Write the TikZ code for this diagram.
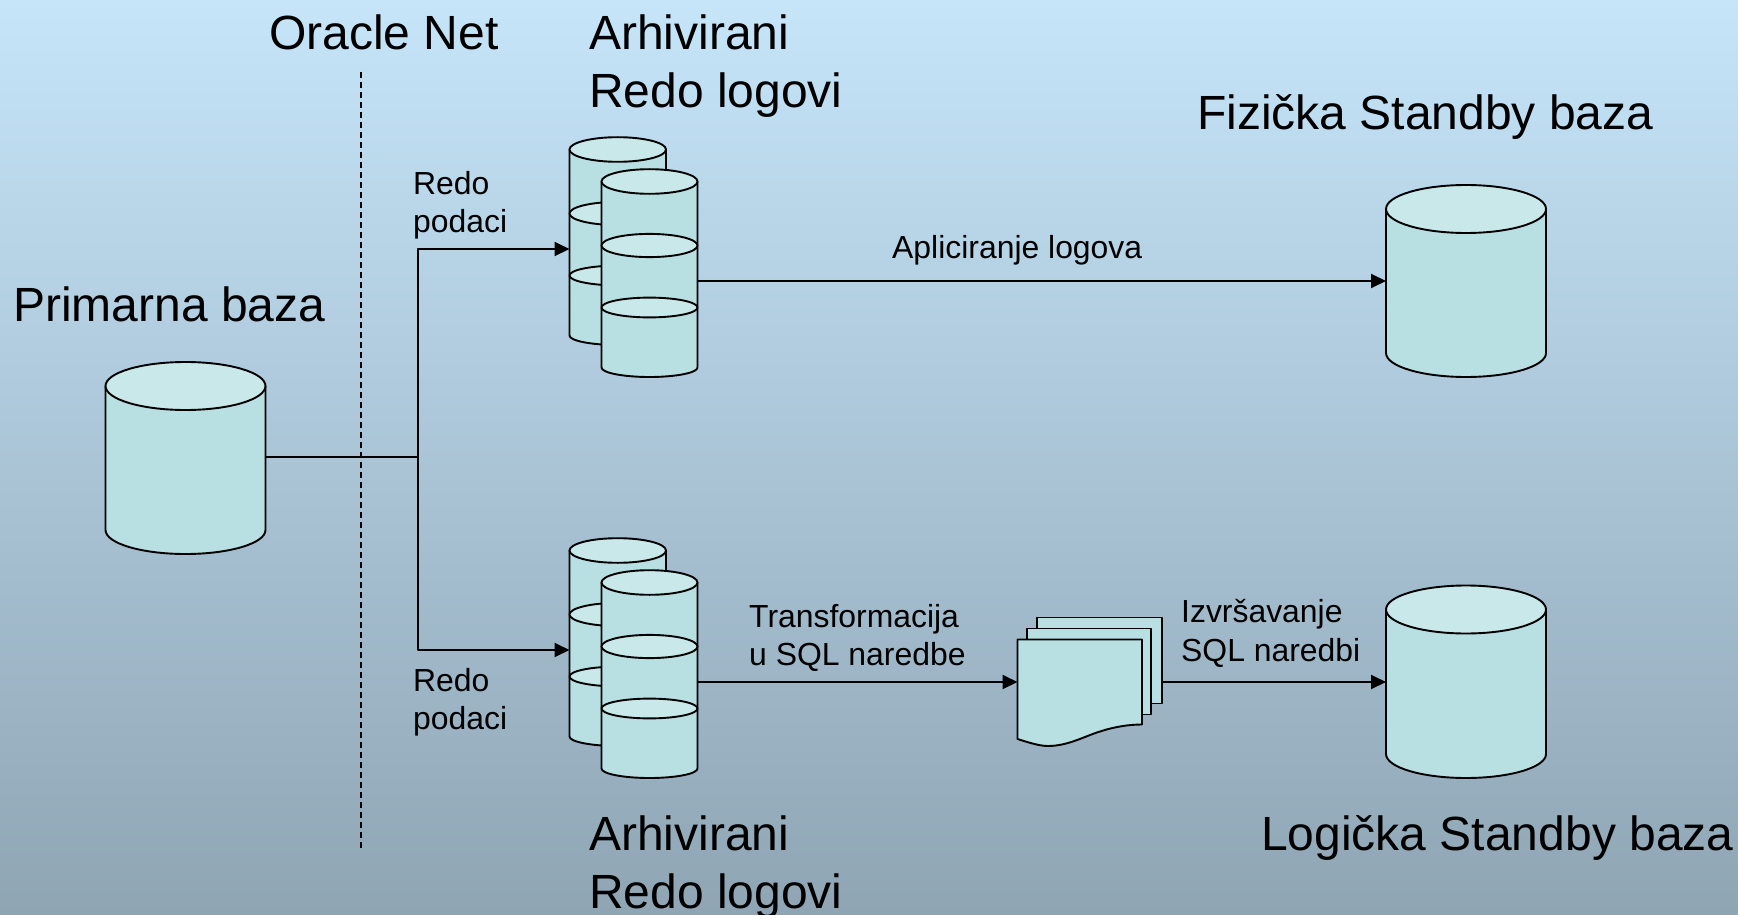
\documentclass[tikz,border=0pt]{standalone}
\usepackage{fontspec}
\setmainfont{Liberation Sans}
\usetikzlibrary{arrows.meta}
\definecolor{bgtop}{RGB}{198,229,249}
\definecolor{bgbot}{RGB}{143,165,180}
\definecolor{body}{RGB}{184,224,227}
\definecolor{cap}{RGB}{201,232,234}
\newcommand{\bigfs}{\fontsize{48}{57}\selectfont}
\newcommand{\smallfs}{\fontsize{31.9}{38}\selectfont}
\tikzset{
  ln/.style={line width=1.9pt,line join=round},
  arr/.style={ln,-{Triangle[length=15pt,width=14pt]}},
  big/.style={anchor=base west,inner sep=0pt,font=\bigfs},
  small/.style={anchor=base west,inner sep=0pt,font=\smallfs},
  anch/.style={rectangle,inner sep=0pt,outer sep=0pt,minimum width=#1},
  sheet/.style={rectangle,draw,ln,fill=body,inner sep=0pt,outer sep=0pt}
}
% body of a cylinder: xl xr ytop ybot rybottom
\newcommand{\cylbody}[5]{%
  \pgfmathsetmacro{\xc}{(#1+#2)/2}%
  \pgfmathsetmacro{\rk}{(#2-#1)/2*0.5523}%
  \pgfmathsetmacro{\yk}{#5*0.5523}%
  \pgfmathsetmacro{\yb}{#4+#5}%
  \draw[ln,fill=body] (#1,#3) -- (#1,#4)
    .. controls (#1,#4+\yk) and (\xc-\rk,\yb) .. (\xc,\yb)
    .. controls (\xc+\rk,\yb) and (#2,#4+\yk) .. (#2,#4) -- (#2,#3) -- cycle;%
}
\newcommand{\cylcap}[4]{\draw[ln,fill=cap] ({(#1+#2)/2},#3) ellipse [x radius={(#2-#1)/2},y radius=#4];}
% stack drum with three sections at vertical offset
\newcommand{\drum}[3]{%
  \cylbody{#1}{#2}{#3+13}{#3+199}{9.5}%
  \cylcap{#1}{#2}{#3+13}{12.3}%
  \cylcap{#1}{#2}{#3+77}{11.6}%
  \cylcap{#1}{#2}{#3+139}{9.9}%
}
\begin{document}
\begin{tikzpicture}[x=1pt,y=-1pt]
\useasboundingbox (0,0) rectangle (1738,915);
\fill[top color=bgtop,bottom color=bgbot] (0,0) rectangle (1738,915);

% dashed divider
\coordinate (dashT) at (361,72);
\coordinate (dashB) at (361,851.5);
\draw[line width=1.7pt,dash pattern=on 6pt off 4pt] (dashT) -- (dashB);

% anchor boxes
\node[anch=160pt,minimum height=192pt] (prim) at (185.5,457) {};
\node[anch=160pt,minimum height=193pt] (phys) at (1466,281) {};
\node[anch=160pt,minimum height=193pt] (logi) at (1466,682) {};
\node[anch=97pt,minimum height=192pt] (upB) at (618,249) {};
\node[anch=96pt,minimum height=192pt] (upF) at (649.5,281) {};
\node[anch=97pt,minimum height=192pt] (loB) at (618,650) {};
\node[anch=96pt,minimum height=192pt] (loF) at (649.5,682) {};
\node[anch=125pt,minimum height=85pt] (docF) at (1080,682) {};
\coordinate (jct) at (418,457);

% connectors
\draw[ln] (prim.east) -- (jct);
\draw[arr] (jct) |- (upB.west);
\draw[arr] (jct) |- (loB.west);
\draw[arr] (upF.east) -- (phys.west);
\draw[arr] (loF.east) -- (docF.west);

% cylinders
\cylbody{105.5}{265.5}{386}{530}{24}
\cylcap{105.5}{265.5}{386}{24}
\cylbody{1386}{1546}{209}{353}{24}
\cylcap{1386}{1546}{209}{24}
\cylbody{1386}{1546}{609.5}{754}{24}
\cylcap{1386}{1546}{609.5}{24}

% stacks
\drum{569.5}{666}{136.5}
\drum{601.5}{697.5}{168.5}
\drum{569.5}{666}{537.5}
\drum{601.5}{697.5}{569.5}

% document pile
\node[sheet,minimum width=125pt,minimum height=86pt] (docC) at (1099.8,660.5) {};
\node[sheet,minimum width=124pt,minimum height=86pt] (docB) at (1089.3,671.5) {};
\draw[ln,fill=body] (1017.5,639.5) -- (1142,639.5) -- (1142,724.5)
  .. controls (1130,724.5) and (1115,726.5) .. (1100,731.5)
  .. controls (1085,736) and (1068,746) .. (1048,746)
  .. controls (1040,746) and (1030,743) .. (1017.5,739) -- cycle;
\draw[arr] (docC.east |- docF.east) -- (logi.west);

% labels
\node[big] (t1) at (269,50) {Oracle Net};
\node[big] (t2) at (589,50) {Arhivirani};
\node[big] (t3) at (589,108) {Redo logovi};
\node[big] (t4) at (1197,130) {Fizička Standby baza};
\node[big] (t5) at (13,321.5) {Primarna baza};
\node[big] (t6) at (589,850.5) {Arhivirani};
\node[big] (t7) at (589,908.5) {Redo logovi};
\node[big] (t8) at (1261,850.5) {Logička Standby baza};
\node[small] (s1) at (413,194.5) {Redo};
\node[small] (s2) at (413,232.5) {podaci};
\node[small] (s3) at (413,691) {Redo};
\node[small] (s4) at (413,729) {podaci};
\node[small] (s5) at (892,258) {Apliciranje logova};
\node[small] (s6) at (749,627) {Transformacija};
\node[small] (s7) at (749,665) {u SQL naredbe};
\node[small] (s8) at (1181,622.5) {Izvršavanje};
\node[small] (s9) at (1181,661.5) {SQL naredbi};
\end{tikzpicture}
\end{document}
